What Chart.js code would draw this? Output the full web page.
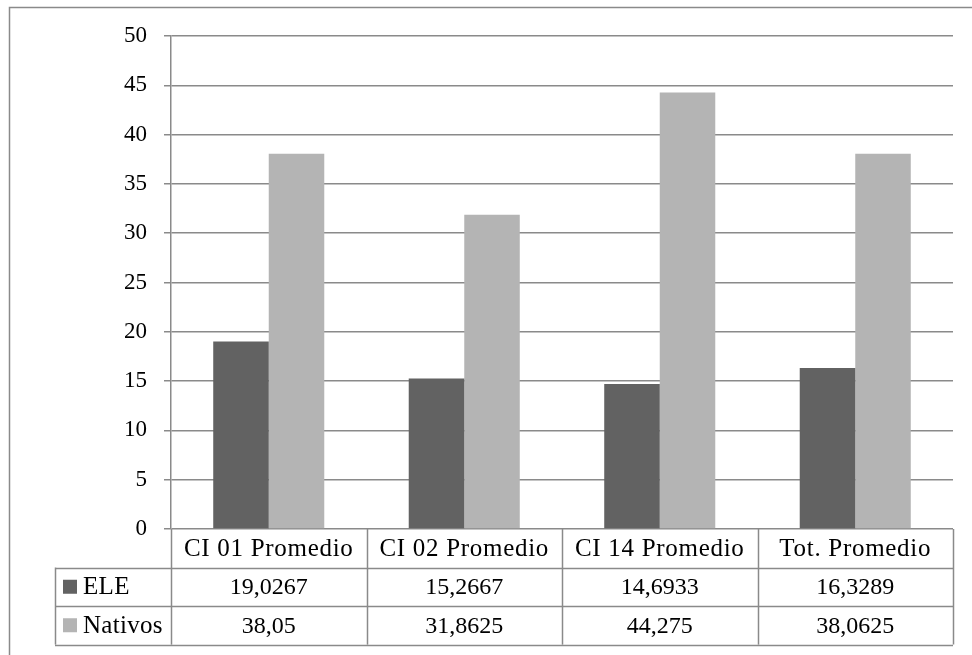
<!DOCTYPE html>
<html>
<head>
<meta charset="utf-8">
<script src="https://cdn.jsdelivr.net/npm/chart.js@4/dist/chart.umd.min.js"></script>
<style>
  html, body { margin: 0; padding: 0; background: #fff; }
  #wrap { position: relative; width: 972px; height: 655px; }
</style>
</head>
<body>
<div id="wrap"><canvas id="chart" width="972" height="655"></canvas></div>
<script>
// Categories and series
const categories = ['CI 01 Promedio', 'CI 02 Promedio', 'CI 14 Promedio', 'Tot. Promedio'];
const eleValues = [19.0267, 15.2667, 14.6933, 16.3289];
const nativosValues = [38.05, 31.8625, 44.275, 38.0625];
const eleLabels = ['19,0267', '15,2667', '14,6933', '16,3289'];
const nativosLabels = ['38,05', '31,8625', '44,275', '38,0625'];
const seriesNames = ['ELE', 'Nativos'];
const yTicks = [0, 5, 10, 15, 20, 25, 30, 35, 40, 45, 50];

const FONT = '"Liberation Serif", "Times New Roman", serif';
const LINE = '#8a8a8a';
const COLORS = ['#626262', '#b4b4b4'];

// Frame around the chart plus the data table under the plot area
const dataTable = {
  id: 'dataTable',
  beforeDraw(chart) {
    const ctx = chart.ctx;
    ctx.save();
    ctx.strokeStyle = LINE;
    ctx.lineWidth = 1.5;
    ctx.beginPath();
    ctx.moveTo(9.5, chart.height);
    ctx.lineTo(9.5, 7.5);
    ctx.lineTo(chart.width, 7.5);
    ctx.stroke();
    ctx.restore();
  },
  afterDraw(chart) {
    const { ctx, chartArea } = chart;
    const xs = chart.scales.x;
    const n = categories.length;
    const colW = (chartArea.right - chartArea.left) / n;
    const rowH = 38.5;
    const top = chartArea.bottom;
    const legendLeft = 55;
    const rows = [
      { name: null, cells: categories },
      { name: seriesNames[0], color: COLORS[0], cells: eleLabels },
      { name: seriesNames[1], color: COLORS[1], cells: nativosLabels }
    ];
    ctx.save();
    ctx.strokeStyle = LINE;
    ctx.lineWidth = 1.5;
    ctx.beginPath();
    // horizontal rules
    for (let r = 1; r <= rows.length; r++) {
      const y = Math.round(top + r * rowH) + 0.5;
      ctx.moveTo(legendLeft, y);
      ctx.lineTo(chartArea.right, y);
    }
    // vertical rules
    for (let c = 0; c <= n; c++) {
      const x = Math.round(chartArea.left + c * colW) + 0.5;
      ctx.moveTo(x, top);
      ctx.lineTo(x, top + rows.length * rowH);
    }
    ctx.moveTo(legendLeft + 0.5, top + rowH);
    ctx.lineTo(legendLeft + 0.5, top + rows.length * rowH);
    ctx.stroke();

    ctx.fillStyle = '#000';
    ctx.textBaseline = 'middle';
    rows.forEach((row, r) => {
      const cy = top + r * rowH + rowH / 2 + 1;
      ctx.textAlign = 'center';
      if (r === 0) {
        ctx.font = '25px ' + FONT;
        ctx.letterSpacing = '0.7px';
      } else {
        ctx.font = '24px ' + FONT;
        ctx.letterSpacing = '0px';
      }
      row.cells.forEach((txt, i) => {
        const cx = xs.getPixelForValue(i);
        ctx.fillStyle = '#000';
        ctx.fillText(txt, cx, cy);
      });
      if (row.name) {
        ctx.fillStyle = row.color;
        ctx.fillRect(63, cy - 8, 14, 14);
        ctx.fillStyle = '#000';
        ctx.textAlign = 'left';
        ctx.font = '25px ' + FONT;
        ctx.letterSpacing = '0.3px';
        ctx.fillText(row.name, 83, cy);
      }
    });
    ctx.restore();
  }
};

new Chart(document.getElementById('chart'), {
  type: 'bar',
  data: {
    labels: categories,
    datasets: [
      { label: seriesNames[0], data: eleValues, backgroundColor: COLORS[0] },
      { label: seriesNames[1], data: nativosValues, backgroundColor: COLORS[1] }
    ]
  },
  options: {
    responsive: false,
    animation: false,
    events: [],
    layout: { padding: { left: 0, right: 19, top: 36, bottom: 126 } },
    plugins: { legend: { display: false }, tooltip: { enabled: false } },
    datasets: { bar: { categoryPercentage: 0.568, barPercentage: 1.0 } },
    scales: {
      x: { display: false },
      y: {
        min: 0,
        max: 50,
        afterFit(scale) { scale.width = 171; },
        afterBuildTicks(scale) { scale.ticks = yTicks.map(v => ({ value: v })); },
        border: { display: true, color: LINE, width: 1.5 },
        grid: { color: LINE, lineWidth: 1.5, tickLength: 7, drawTicks: true },
        ticks: {
          padding: 17,
          color: '#000',
          font: { family: FONT, size: 23 }
        }
      }
    }
  },
  plugins: [dataTable]
});
</script>
</body>
</html>
